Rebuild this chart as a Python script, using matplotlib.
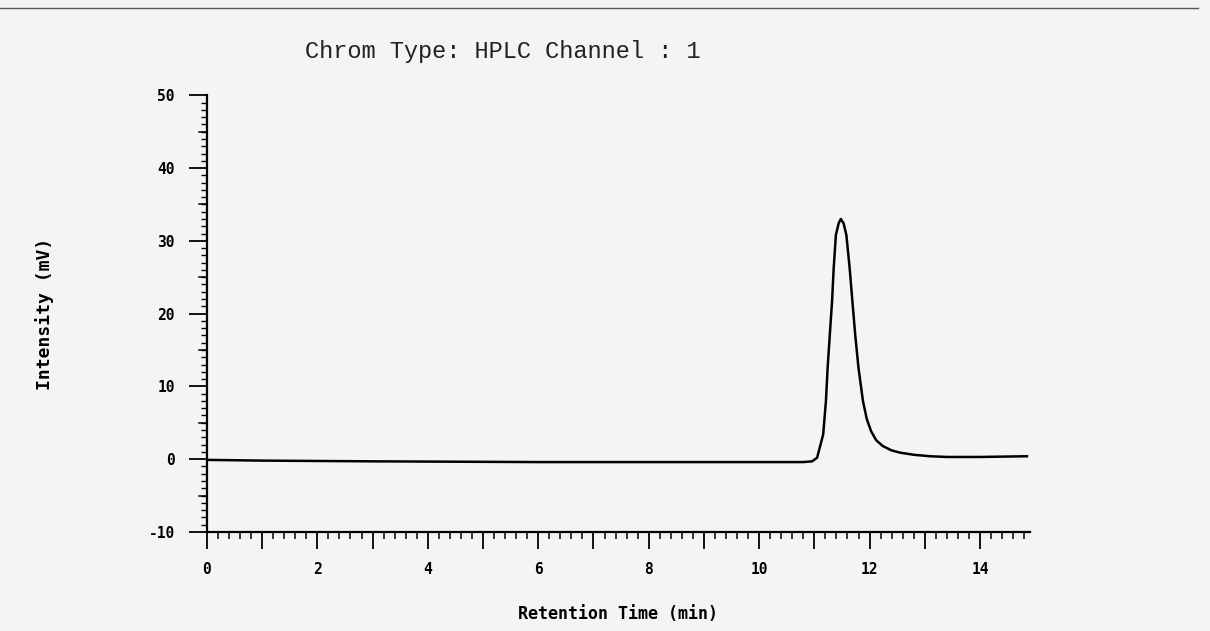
import matplotlib
matplotlib.use("Agg")
from matplotlib import pyplot as plt
from matplotlib.ticker import MultipleLocator, FixedLocator, FuncFormatter
from matplotlib.lines import Line2D

# Chromatogram trace
retention_time = [0.0, 1.0, 3.0, 6.0, 9.0, 10.8, 10.96, 11.05, 11.16, 11.21, 11.24, 11.28,
                  11.32, 11.35, 11.39, 11.44, 11.48, 11.53, 11.58, 11.64, 11.69, 11.74,
                  11.80, 11.88, 11.95, 12.03, 12.12, 12.24, 12.4, 12.55, 12.8, 13.1,
                  13.4, 14.0, 14.85]
intensity = [-0.1, -0.2, -0.3, -0.4, -0.4, -0.4, -0.3, 0.2, 3.4, 8.0, 12.5, 17.1,
             21.6, 26.2, 30.8, 32.4, 33.0, 32.4, 30.8, 26.2, 21.6, 17.1,
             12.5, 8.0, 5.5, 3.8, 2.6, 1.8, 1.2, 0.9, 0.6, 0.4,
             0.3, 0.3, 0.4]

x_tick_labels = ['0', '2', '4', '6', '8', '10', '12', '14']
y_tick_labels = ['-10', '0', '10', '20', '30', '40', '50']

bg = '#f4f4f2'
fig = plt.figure(figsize=(12.1, 6.31), dpi=100, facecolor=bg)
axis = fig.add_axes([0.171, 0.157, 0.680, 0.692], facecolor=bg)

axis.plot(retention_time, intensity, color='black', linewidth=1.8,
          solid_joinstyle='round')

axis.set_xlim(0, 14.9)
axis.set_ylim(-10, 50)

for side in ['top', 'right']:
    axis.spines[side].set_visible(False)
for side in ['left', 'bottom']:
    axis.spines[side].set_linewidth(1.6)

# x ticks: long every 1 min, labels every 2, minor every 0.2
def x_label(v, p):
    i = int(round(v))
    if i % 2 == 0 and i // 2 < len(x_tick_labels):
        return x_tick_labels[i // 2]
    return ''

axis.xaxis.set_major_locator(MultipleLocator(1))
axis.xaxis.set_minor_locator(MultipleLocator(0.2))
axis.xaxis.set_major_formatter(FuncFormatter(x_label))
axis.tick_params(axis='x', which='major', length=12, width=1.3, direction='out', pad=10)
axis.tick_params(axis='x', which='minor', length=5, width=1.1, direction='out')

# y ticks: major every 10, minor every 1
axis.yaxis.set_major_locator(FixedLocator([-10, 0, 10, 20, 30, 40, 50]))
axis.yaxis.set_minor_locator(MultipleLocator(1))
axis.set_yticklabels(y_tick_labels)
axis.tick_params(axis='y', which='major', length=13, width=1.3, direction='out', pad=10)
axis.tick_params(axis='y', which='minor', length=4, width=1.0, direction='out')
# mid ticks at the fives
for v in [-5, 5, 15, 25, 35, 45]:
    axis.plot([-0.15, 0], [v, v], color='black', linewidth=1.1, clip_on=False)

for lab in axis.get_xticklabels() + axis.get_yticklabels():
    lab.set_fontweight('bold')
    lab.set_fontsize(10.5)
    lab.set_family('DejaVu Sans Mono')

axis.set_xlabel('Retention Time (min)', fontsize=12, fontweight='bold',
                family='DejaVu Sans Mono', labelpad=20)
axis.set_ylabel('Intensity (mV)', fontsize=13, fontweight='bold',
                family='DejaVu Sans Mono', labelpad=68)

fig.text(0.252, 0.918, 'Chrom Type: HPLC Channel : 1', fontsize=17,
         family='Liberation Mono', ha='left', va='center', color='#222222')

# scan edge line at the top of the page
fig.add_artist(Line2D([0.0, 0.99], [0.987, 0.987], color='#555555', linewidth=1.0,
                      transform=fig.transFigure))

fig.savefig('out.png', dpi=100, facecolor=bg)
